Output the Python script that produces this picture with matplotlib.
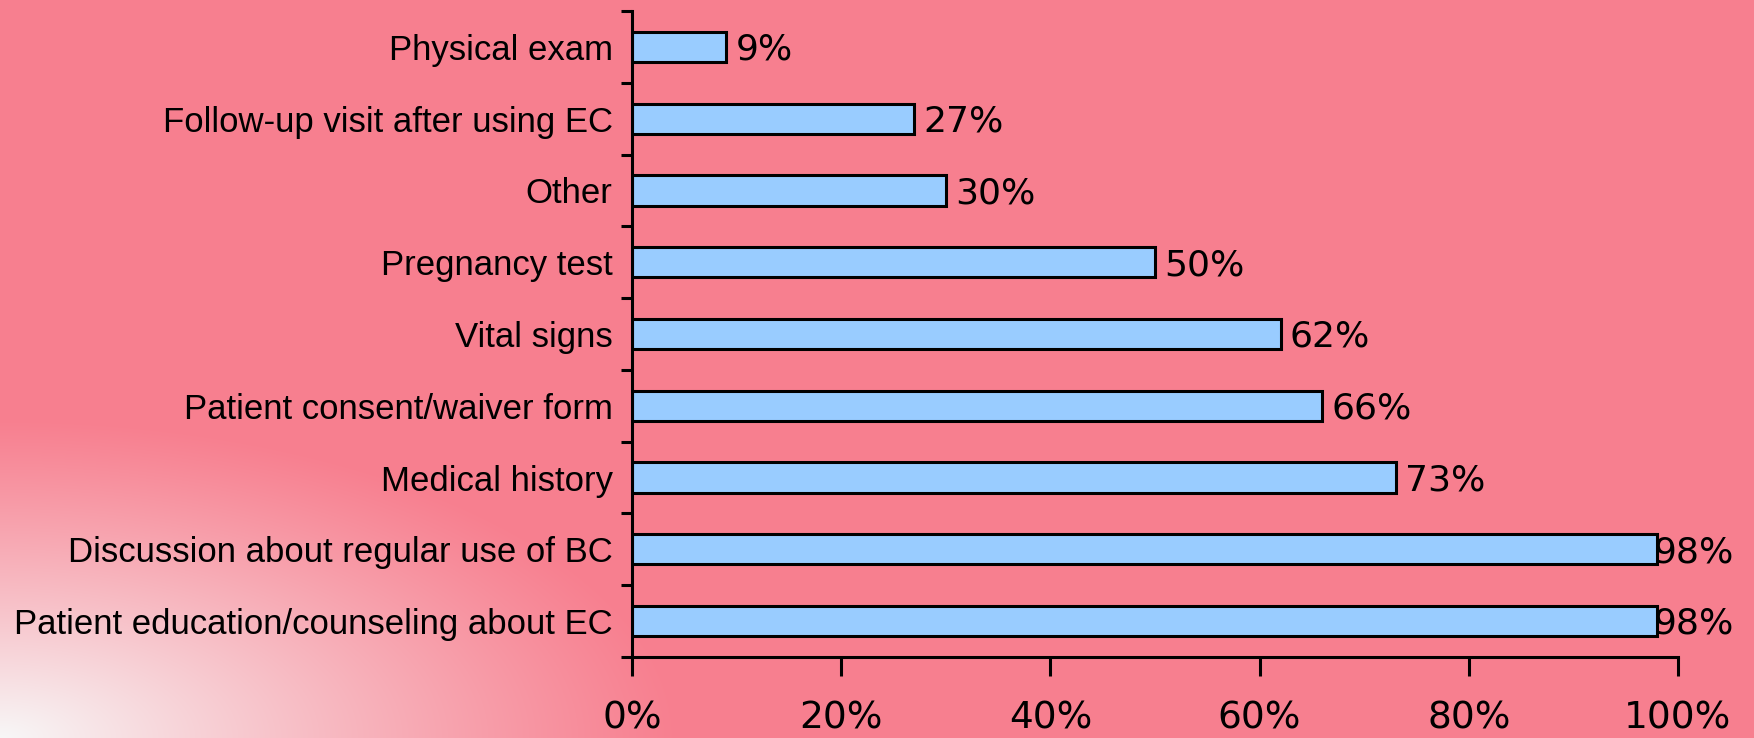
import numpy as np
import matplotlib.pyplot as plt
from matplotlib.ticker import FixedLocator

# data, bottom to top
categories = ["Patient education/counseling about EC",
              "Discussion about regular use of BC",
              "Medical history",
              "Patient consent/waiver form",
              "Vital signs",
              "Pregnancy test",
              "Other",
              "Follow-up visit after using EC",
              "Physical exam"]
values = [98, 98, 73, 66, 62, 50, 30, 27, 9]
xticks = [0, 20, 40, 60, 80, 100]

pink = np.array([247, 127, 143]) / 255.0

fig = plt.figure(figsize=(17.54, 7.38), dpi=100)

# background: pink with a white glow in the lower-left corner
bg = fig.add_axes([0, 0, 1, 1], zorder=-10)
h, w = 738, 1754
yy, xx = np.mgrid[0:h, 0:w]
d = np.sqrt((xx / 680.0) ** 2 + ((h - yy) / 320.0) ** 2)
glow = np.clip(1 - d, 0, 1) ** 1.1
img = pink[None, None, :] * (1 - glow[..., None]) + np.array([1, 1, 1])[None, None, :] * glow[..., None] * 0.97
bg.imshow(img, extent=[0, 1, 0, 1], aspect='auto', origin='upper')
bg.axis('off')

ax = fig.add_axes([632 / 1754, 1 - 657 / 738, 1046 / 1754, 646 / 738])
ax.patch.set_alpha(0)

y = np.arange(len(categories))
ax.barh(y, values, height=0.42, color='#99CCFF', edgecolor='black', linewidth=2.2)

for yi, v in zip(y, values):
    ax.text(min(v + 0.9, 97.7), yi - 0.04, f"{v}%", va='center', ha='left',
            fontsize=26, family='DejaVu Sans')

ax.set_xlim(0, 100)
ax.set_ylim(-0.5, len(categories) - 0.5)
ax.set_xticks(xticks)
ax.set_xticklabels([f"{t}%" for t in xticks], fontsize=27, family='DejaVu Sans')
ax.tick_params(axis='x', length=14, width=2.2, direction='out', pad=17)

ax.set_yticks(y)
ax.set_yticklabels(categories, fontsize=25, family='Liberation Sans')
ax.tick_params(axis='y', which='major', length=0, pad=14)
ax.yaxis.set_minor_locator(FixedLocator(np.arange(-0.5, len(categories), 1.0)))
ax.tick_params(axis='y', which='minor', length=8, width=2.2, direction='out')

for s in ['top', 'right']:
    ax.spines[s].set_visible(False)
for s in ['left', 'bottom']:
    ax.spines[s].set_linewidth(2.2)

fig.savefig('out.png', dpi=100)
